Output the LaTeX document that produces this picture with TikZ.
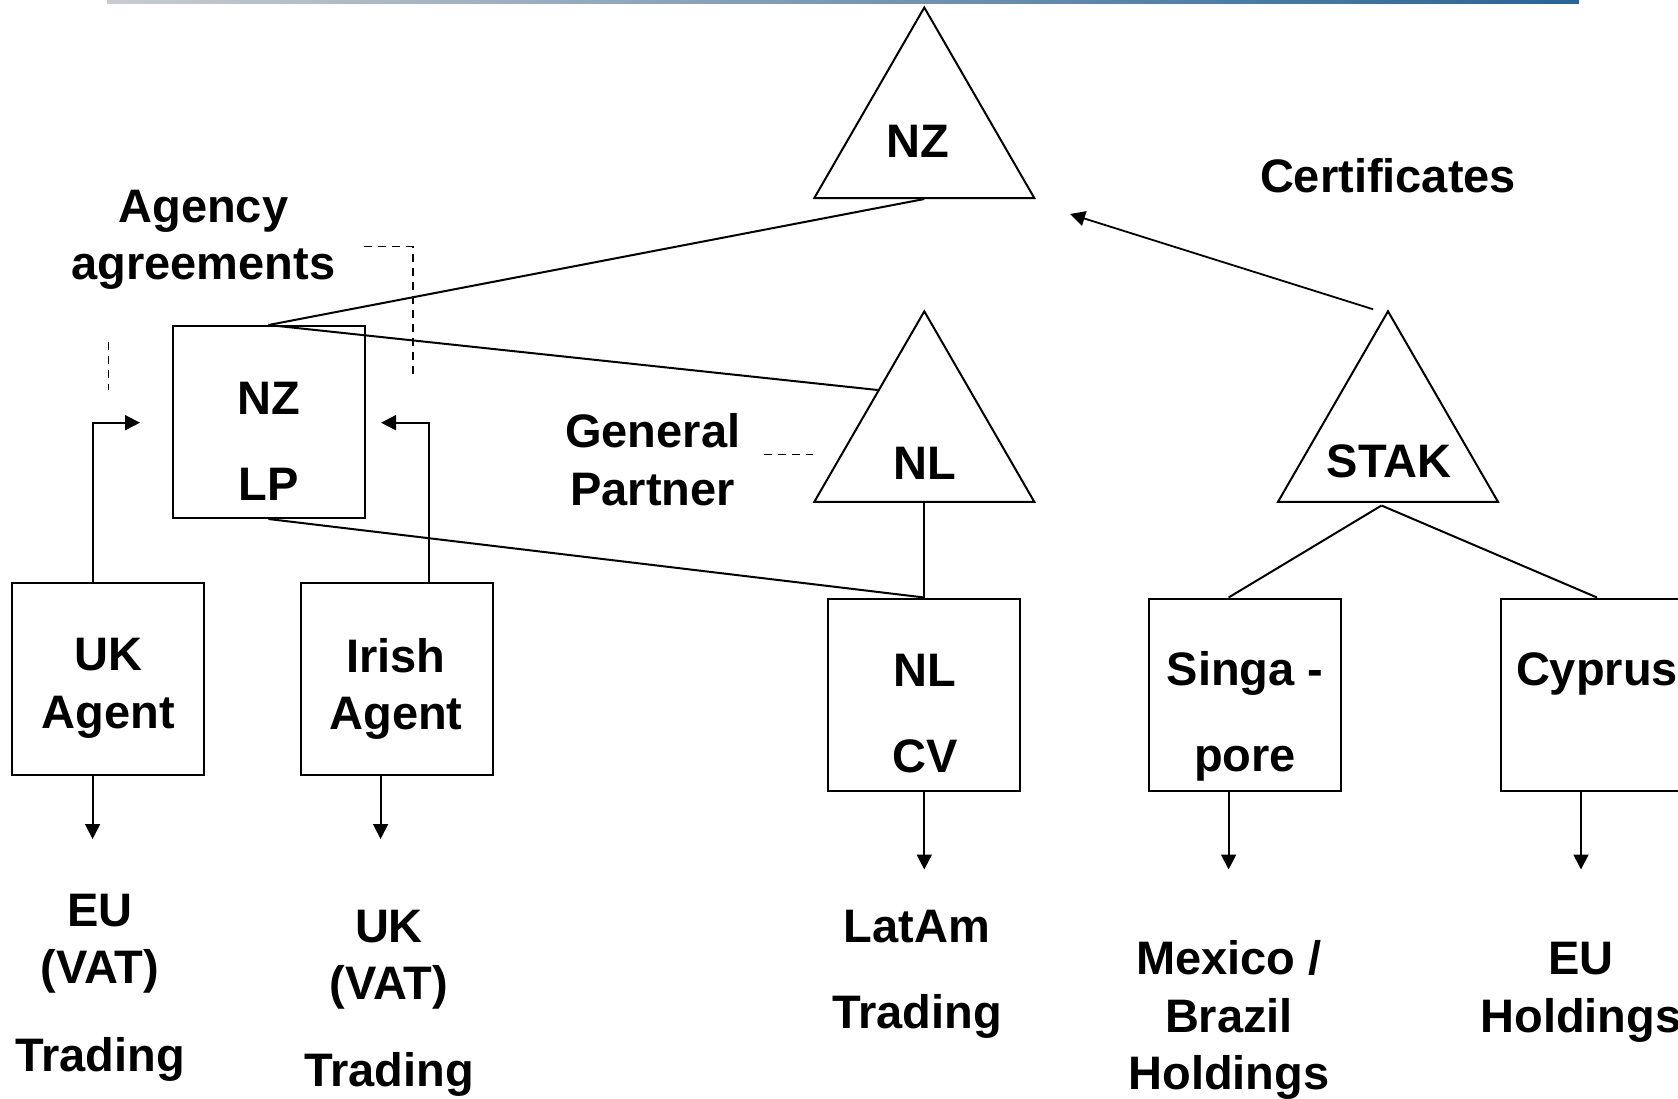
\documentclass[tikz,border=0pt]{standalone}
\usepackage{fontspec}
\setmainfont{Liberation Sans}
\usetikzlibrary{shapes.geometric,arrows.meta,calc}
\definecolor{rulegray}{RGB}{200,204,208}
\definecolor{ruleblue}{RGB}{40,100,150}

\begin{document}
\begin{tikzpicture}[x=0.5pt,y=-0.5pt,
    entity/.style={draw,line width=1pt,minimum width=96pt,minimum height=96pt,inner sep=0pt},
    holder/.style={draw,line width=1pt,regular polygon,regular polygon sides=3,minimum size=127pt,inner sep=0pt},
    txt/.style={anchor=north,align=center,inner sep=0pt,font=\fontsize{23.5}{28.75}\selectfont\bfseries},
    link/.style={line width=1pt},
    flow/.style={line width=0.9pt,-{Triangle[length=7.5pt,width=7.5pt]}},
    hint/.style={line width=0.6pt,dash pattern=on 4pt off 3pt}]
    \useasboundingbox (0,0) rectangle (1678,1099);
    \clip (0,0) rectangle (1678,1099);
    \shade[left color=rulegray,right color=ruleblue] (107,0) rectangle (1579,3);

    \node[holder] (nz) at (924.3,134.5) {};
    \node[holder] (nl) at (924.3,438.3) {};
    \node[holder] (stak) at (1388,438.3) {};
    \node[entity] (nzlp) at (268.5,422) {};
    \node[entity] (ukag) at (108.4,679) {};
    \node[entity] (irag) at (397,679) {};
    \node[entity] (nlcv) at (924.3,694.5) {};
    \node[entity] (sing) at (1245,694.5) {};
    \node[entity] (cyp) at (1597,694.5) {};

    \node[txt] (nzname) at (917.6,124.6) {NZ};
    \node[txt] (nlname) at (925,446.3) {NL};
    \node[txt] (stakname) at (1389,444) {STAK};
    \node[txt] (nzlpname) at (268.6,381.3) {NZ\\[14.5pt]LP};
    \node[txt] (ukagname) at (108.4,638) {UK\\Agent};
    \node[txt] (iragname) at (396,638) {Irish\\Agent};
    \node[txt] (nlcvname) at (925,653.3) {NL\\[14.5pt]CV};
    \node[txt] (singname) at (1245,651) {Singa -\\[14.5pt]pore};
    \node[txt] (cypname) at (1597,652.3) {Cyprus};
    \node[txt] (agency) at (203.3,189.6) {Agency\\agreements};
    \node[txt] (certs) at (1388,157.8) {Certificates};
    \node[txt] (gp) at (652.8,413.3) {General\\Partner};
    \node[txt] (eutrade) at (100,893.3) {EU\\(VAT)\\[15pt]Trading};
    \node[txt] (uktrade) at (389,909.3) {UK\\(VAT)\\[14.5pt]Trading};
    \node[txt] (latam) at (917,909.3) {LatAm\\[14.5pt]Trading};
    \node[txt] (mexbra) at (1229,940.3) {Mexico /\\Brazil\\Holdings};
    \node[txt] (euhold) at (1581,942) {EU\\Holdings};

    \draw[link] (nzlp.north) -- (nz.south);
    \draw[link] (nzlp.north) -- ($(nl.corner 1)!0.417!(nl.corner 2)$);
    \draw[link] (nzlp.south) -- (nlcv.north);
    \draw[link] (nl.south) -- (nlcv.north);
    \coordinate (fork) at (1381.5,505.5);
    \draw[link] (fork) -- ([xshift=-8.2pt]sing.north);
    \draw[link] (fork) -- (cyp.north);

    \coordinate (certtip) at (1070,214);
    \draw[flow] ([xshift=-7.4pt]stak.corner 1) -- (certtip);

    \coordinate (agA) at (364,246.5);
    \coordinate (agB) at (413,246.5);
    \coordinate (agC) at (413,375);
    \draw[hint] (agA) -- (agB) -- (agC);
    \coordinate (agD) at (108.5,342);
    \coordinate (agE) at (108.5,390);
    \draw[hint] (agD) -- (agE);
    \coordinate (gpA) at (764,454.3);
    \coordinate (gpB) at (813.3,454.3);
    \draw[hint] (gpA) -- (gpB);

    \coordinate (uktip) at (140,422.7);
    \coordinate (irtip) at (381,422.7);
    \draw[flow] ([xshift=-7.9pt]ukag.north) |- (uktip);
    \draw[flow] ([xshift=16pt]irag.north) |- (irtip);

    \draw[flow] ([xshift=-7.9pt]ukag.south) -- ++(0,63);
    \draw[flow] ([xshift=-8.2pt]irag.south) -- ++(0,63);
    \draw[flow] (nlcv.south) -- ++(0,78);
    \draw[flow] ([xshift=-8.2pt]sing.south) -- ++(0,78);
    \draw[flow] ([xshift=-8pt]cyp.south) -- ++(0,78);
\end{tikzpicture}
\end{document}
